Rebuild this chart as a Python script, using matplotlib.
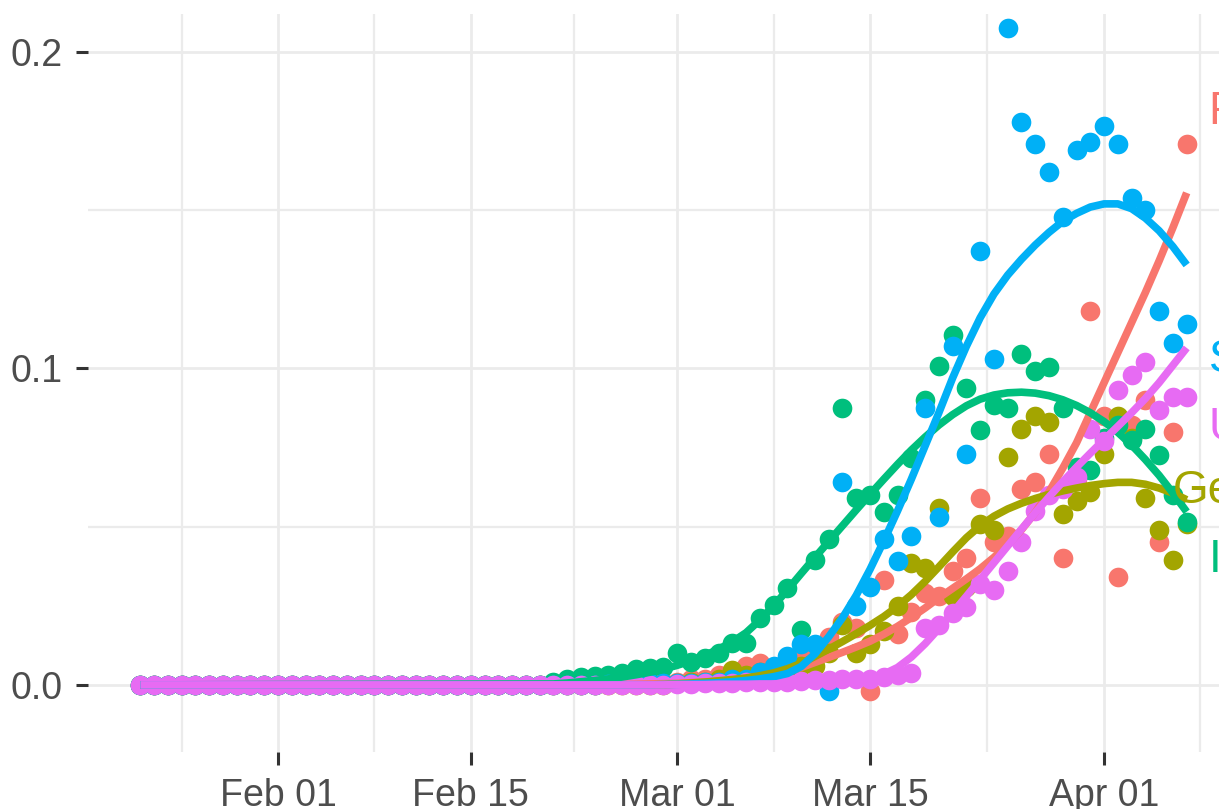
import matplotlib
matplotlib.use("Agg")
import matplotlib.pyplot as plt
import matplotlib.dates as mdates
import datetime as dt

plt.rcParams['font.family'] = ['Liberation Sans', 'DejaVu Sans']

# daily points: Jan 22 2020 .. Apr 7 2020 (77 days)
start = dt.date(2020, 1, 22)
dates = [start + dt.timedelta(days=i) for i in range(77)]

countries = ["France", "Germany", "Italy", "Spain", "US"]
colors = ["#F8766D", "#A3A500", "#00BF7D", "#00B0F6", "#E76BF3"]

# Jan 22 - Feb 20 (30 days) are all zero for every country
france = [0, 0, 0, 0, 0, 0, 0, 0, 0, 0,
          0, 0, 0, 0, 0, 0, 0, 0, 0, 0,
          0, 0, 0, 0, 0, 0, 0, 0, 0, 0,
          0, 0, 0, 0, 0.0005, 0.0005, 0.001, 0.001, 0.001,
          0.001, 0.002, 0.002, 0.003, 0.004, 0.006, 0.007, 0.004, 0.008, 0.009,
          0.010, 0.015, 0.020, 0.018, -0.002, 0.033, 0.016, 0.023, 0.029, 0.028,
          0.036, 0.040, 0.059, 0.045, 0.047, 0.062, 0.064, 0.073, 0.040, 0.065,
          0.118,
          0.085, 0.034, 0.082, 0.090, 0.045, 0.080, 0.171]
germany = [0, 0, 0, 0, 0, 0, 0, 0, 0, 0,
           0, 0, 0, 0, 0, 0, 0, 0, 0, 0,
           0, 0, 0, 0, 0, 0, 0, 0, 0, 0,
           0, 0, 0, 0, 0, 0, 0, 0, 0,
           0.0005, 0.001, 0.001, 0.002, 0.0047, 0.003, 0.004, 0.004, 0.004, 0.006,
           0.006, 0.010, 0.019, 0.010, 0.013, 0.017, 0.025, 0.0385, 0.037, 0.056,
           0.028, 0.031, 0.051, 0.049, 0.072, 0.081, 0.085, 0.083, 0.054, 0.058,
           0.061,
           0.073, 0.085, 0.078, 0.059, 0.049, 0.0395, 0.051]
italy = [0, 0, 0, 0, 0, 0, 0, 0, 0, 0,
         0, 0, 0, 0, 0, 0, 0, 0, 0, 0,
         0, 0, 0, 0, 0, 0, 0, 0, 0, 0,
         0.0008, 0.0019, 0.0025, 0.0028, 0.003, 0.0038, 0.005, 0.0054, 0.0057,
         0.0101, 0.0073, 0.0085, 0.0101, 0.0133, 0.0133, 0.0212, 0.0253, 0.0306, 0.0174,
         0.0395, 0.046, 0.0875, 0.059, 0.060, 0.0547, 0.060, 0.0717, 0.090, 0.1008,
         0.1106, 0.0938, 0.0806, 0.0885, 0.0875, 0.1046, 0.0992, 0.1005, 0.0875, 0.069,
         0.068,
         0.078, 0.082, 0.0775, 0.081, 0.0727, 0.060, 0.0515]
spain = [0, 0, 0, 0, 0, 0, 0, 0, 0, 0,
         0, 0, 0, 0, 0, 0, 0, 0, 0, 0,
         0, 0, 0, 0, 0, 0, 0, 0, 0, 0,
         0, 0, 0, 0, 0.0003, 0.0003, 0.0003, 0.0005, 0.0005,
         0.0005, 0.0005, 0.001, 0.001, 0.002, 0.002, 0.004, 0.006, 0.009, 0.013,
         0.013, -0.002, 0.064, 0.025, 0.031, 0.046, 0.039, 0.047, 0.0875, 0.053,
         0.107, 0.073, 0.137, 0.103, 0.2076, 0.178, 0.171, 0.162, 0.148, 0.169,
         0.1716,
         0.1766, 0.171, 0.154, 0.150, 0.118, 0.108, 0.114]
us = [0, 0, 0, 0, 0, 0, 0, 0, 0, 0,
      0, 0, 0, 0, 0, 0, 0, 0, 0, 0,
      0, 0, 0, 0, 0, 0, 0, 0, 0, 0,
      0, 0, 0, 0, 0, 0, 0, 0, 0,
      0.0003, 0.0003, 0.0005, 0.0005, 0.0006, 0.0008, 0.001, 0.001, 0.001, 0.0012,
      0.0015, 0.0015, 0.002, 0.002, 0.002, 0.0025, 0.003, 0.0038, 0.018, 0.019,
      0.0227, 0.0246, 0.032, 0.030, 0.036, 0.045, 0.055, 0.060, 0.062, 0.0657,
      0.081,
      0.077, 0.0932, 0.098, 0.102, 0.087, 0.091, 0.091]

series = [france, germany, italy, spain, us]

# smoothed trend lines: Jan 22, then daily Feb 21 .. Apr 7
trend_dates = [dt.date(2020, 1, 22)] + [dt.date(2020, 2, 21) + dt.timedelta(days=i)
                                        for i in range(47)]
france_trend = [0,
                0, 0, 0, 0, 0, 0.0001, 0.0002, 0.0003, 0.0004,
                0.0005, 0.0007, 0.0009, 0.0011, 0.0014, 0.0018, 0.0023, 0.0030, 0.0041, 0.0055,
                0.0071, 0.0087, 0.0103, 0.0120, 0.0138, 0.0160, 0.0185, 0.0213, 0.0243, 0.0275,
                0.0305, 0.0335, 0.0367, 0.0403, 0.0443, 0.0490, 0.0545, 0.0610, 0.0685, 0.0765,
                0.0860,
                0.0955, 0.1050, 0.1145, 0.1240, 0.1340, 0.1445, 0.1555]
germany_trend = [0,
                 0, 0, 0, 0, 0, 0, 0, 0, 0,
                 0.0003, 0.0006, 0.0009, 0.0013, 0.0017, 0.0022, 0.0029, 0.0038, 0.0051, 0.0068,
                 0.0090, 0.0113, 0.0137, 0.0162, 0.0188, 0.0216, 0.0248, 0.0285, 0.0327, 0.0373,
                 0.0420, 0.0465, 0.0503, 0.0533, 0.0556, 0.0574, 0.0589, 0.0602, 0.0613, 0.0622,
                 0.0630,
                 0.0636, 0.0640, 0.0640, 0.0634, 0.0622, 0.0606, 0.0585]
italy_trend = [0,
               0.0003, 0.0006, 0.001, 0.0014, 0.0019, 0.0025, 0.0032, 0.004, 0.005,
               0.0062, 0.0076, 0.0093, 0.0113, 0.0136, 0.0165, 0.0205, 0.0250, 0.0300, 0.0352,
               0.0403, 0.0453, 0.0503, 0.0553, 0.0602, 0.0650, 0.0697, 0.0742, 0.0783, 0.0821,
               0.0854, 0.0882, 0.0903, 0.0916, 0.0923, 0.0925, 0.0922, 0.0914, 0.0901, 0.0883,
               0.0860,
               0.0832, 0.0798, 0.0758, 0.0712, 0.0662, 0.0606, 0.0547]
spain_trend = [0,
               0, 0, 0, 0, 0, 0, 0, 0, 0.0001,
               0.0002, 0.0003, 0.0005, 0.0007, 0.0010, 0.0014, 0.0019, 0.0026, 0.0036, 0.0058,
               0.0098, 0.0152, 0.0212, 0.0283, 0.0365, 0.0455, 0.0550, 0.0650, 0.0755, 0.0860,
               0.0970, 0.1070, 0.1160, 0.1235, 0.1295, 0.1345, 0.1390, 0.1430, 0.1465, 0.1490,
               0.1510,
               0.1520, 0.1520, 0.1505, 0.1475, 0.1435, 0.1385, 0.1327]
us_trend = [0,
            0, 0, 0, 0, 0, 0, 0, 0, 0,
            0.0001, 0.0001, 0.0001, 0.0002, 0.0002, 0.0002, 0.0003, 0.0003, 0.0004, 0.0005,
            0.0006, 0.0008, 0.0011, 0.0015, 0.0022, 0.0034, 0.0055, 0.0088, 0.0130, 0.0178,
            0.0228, 0.0280, 0.0333, 0.0386, 0.0439, 0.0492, 0.0544, 0.0594, 0.0642, 0.0688,
            0.0732,
            0.0775, 0.0817, 0.0860, 0.0905, 0.0955, 0.1010, 0.1065]
trends = [france_trend, germany_trend, italy_trend, spain_trend, us_trend]

# end-of-line labels (x as date, y as value)
label_dates = [dt.date(2020, 4, 8), dt.date(2020, 4, 6), dt.date(2020, 4, 8),
               dt.date(2020, 4, 8), dt.date(2020, 4, 8)]
label_y = [0.181, 0.0613, 0.0395, 0.1027, 0.0812]

xnum = mdates.date2num(dates)
tnum = mdates.date2num(trend_dates)

fig = plt.figure(figsize=(12.19, 8.09), dpi=100)
ax = fig.add_axes([88 / 1219, 57 / 809, 1151 / 1219, 738 / 809])

for vals, col in zip(series, colors):
    ax.scatter(xnum, vals, s=200, color=col, linewidths=0, zorder=2)
for vals, col in zip(trends, colors):
    ax.plot(tnum, vals, color=col, lw=5.5, zorder=3, solid_joinstyle='round',
            solid_capstyle='butt')
for name, col, ld, ly in zip(countries, colors, label_dates, label_y):
    off = 0.6 if name != "Germany" else 0.0
    ax.text(mdates.date2num(ld) + off, ly, name, color=col, fontsize=33, va='center',
            ha='left', zorder=4, clip_on=False)

span_days = xnum.max() - xnum.min()
ax.set_xlim(xnum.min() - 0.05 * span_days, xnum.max() + 0.05 * span_days)
ax.set_ylim(-0.0212, 0.212)

major = [dt.date(2020, 1, 18), dt.date(2020, 2, 1), dt.date(2020, 2, 15), dt.date(2020, 3, 1),
         dt.date(2020, 3, 15), dt.date(2020, 4, 1), dt.date(2020, 4, 15)]
mnum = mdates.date2num(major)
ax.set_xticks(mnum[1:-1])
ax.set_xticks((mnum[:-1] + mnum[1:]) / 2, minor=True)
ax.xaxis.set_major_formatter(mdates.DateFormatter('%b %d'))
ax.set_yticks([0.0, 0.1, 0.2])
ax.set_yticklabels(["0.0", "0.1", "0.2"])
ax.set_yticks([0.05, 0.15], minor=True)

ax.grid(which='major', color='#EBEBEB', lw=2.0)
ax.grid(which='minor', color='#EBEBEB', lw=1.6)
ax.set_axisbelow(True)
for s in ax.spines.values():
    s.set_visible(False)
ax.tick_params(which='major', length=9, width=2.2, color='#333333', labelsize=27,
               labelcolor='#4D4D4D')
ax.tick_params(axis='y', pad=9)
ax.tick_params(axis='x', pad=10)
ax.tick_params(which='minor', length=0)

fig.savefig("out.png", dpi=100)
